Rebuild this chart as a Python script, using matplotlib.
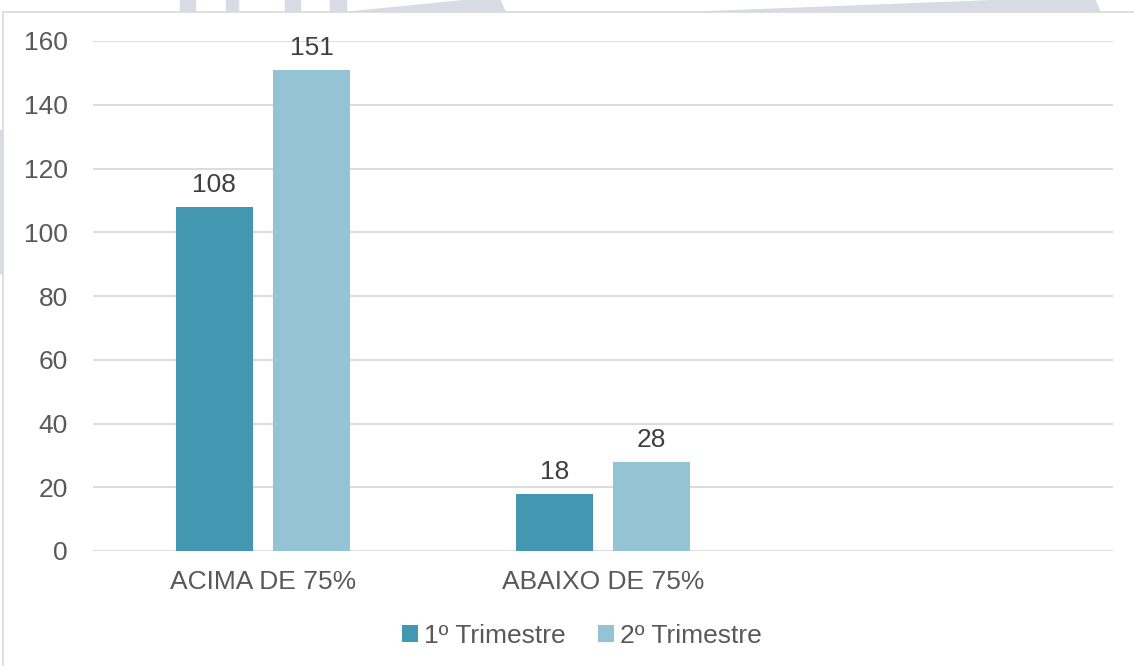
import numpy as np
import matplotlib.pyplot as plt
from matplotlib.patches import Rectangle, Polygon

# Data
categories = ["ACIMA DE 75%", "ABAIXO DE 75%", ""]
series_names = ["1º Trimestre", "2º Trimestre"]
tri1 = [108, 18, np.nan]
tri2 = [151, 28, np.nan]
yticks = [0, 20, 40, 60, 80, 100, 120, 140, 160]

colors = ["#4397B0", "#93C3D5"]
txt = "#595959"
plt.rcParams['font.family'] = ['Liberation Sans', 'DejaVu Sans']

fig = plt.figure(figsize=(11.34, 6.66), dpi=100)

# faint watermark shapes behind the chart frame
wm = "#D6DBE4"
W, H = 1134, 666
def px_rect(x0, y0, x1, y1):
    fig.patches.append(Rectangle((x0 / W, 1 - y1 / H), (x1 - x0) / W, (y1 - y0) / H,
                                 transform=fig.transFigure, color=wm, zorder=0))
px_rect(0, 130, 3, 273)
for a, b in [(180, 195), (226, 238), (285, 300), (330, 346)]:
    px_rect(a, 0, b, 12)
fig.patches.append(Polygon([(350 / W, 1 - 12 / H), (470 / W, 1), (500 / W, 1), (505 / W, 1 - 12 / H)],
                           transform=fig.transFigure, color=wm, zorder=0))
fig.patches.append(Polygon([(700 / W, 1 - 12 / H), (1010 / W, 1), (1095 / W, 1), (1100 / W, 1 - 12 / H)],
                           transform=fig.transFigure, color=wm, zorder=0))

# chart frame
fig.patches.append(Rectangle((3 / W, -0.05), 1.1, 1 - 12 / H + 0.05, transform=fig.transFigure,
                             facecolor="white", edgecolor="#D9D9D9", linewidth=1.2, zorder=1))

ax = fig.add_axes([93 / W, 1 - 551 / H, 1020 / W, 510 / H])
ax.set_zorder(2)
ax.patch.set_alpha(0)

x = np.arange(len(categories))
w = 0.226
off = 0.143
b1 = ax.bar(x - off, tri1, w, color=colors[0], label=series_names[0], zorder=3)
b2 = ax.bar(x + off, tri2, w, color=colors[1], label=series_names[1], zorder=3)

for bars, vals in [(b1, tri1), (b2, tri2)]:
    for r, v in zip(bars, vals):
        if np.isnan(v):
            continue
        ax.annotate(f"{int(v)}", (r.get_x() + r.get_width() / 2, v), xytext=(0, 7),
                    textcoords="offset points", ha="center", va="bottom", fontsize=19, color="#404040")

ax.set_xlim(-0.5, len(categories) - 0.5)
ax.set_ylim(0, 160)
ax.set_yticks(yticks)
ax.set_xticks(x)
ax.set_xticklabels(categories)
ax.tick_params(axis="both", length=0, labelsize=19, labelcolor=txt)
ax.tick_params(axis="y", pad=18)
ax.tick_params(axis="x", pad=14)
ax.grid(axis="y", color="#D9D9D9", linewidth=1.3, zorder=0)
for s in ax.spines.values():
    s.set_visible(False)

leg = fig.legend(handles=[b1, b2], loc="center", bbox_to_anchor=(582 / W, 1 - 636 / H), ncol=2,
                 frameon=False, fontsize=19, handlelength=0.6, handleheight=0.6,
                 handletextpad=0.25, columnspacing=1.2)
for t in leg.get_texts():
    t.set_color(txt)

fig.savefig("out.png", dpi=100)
